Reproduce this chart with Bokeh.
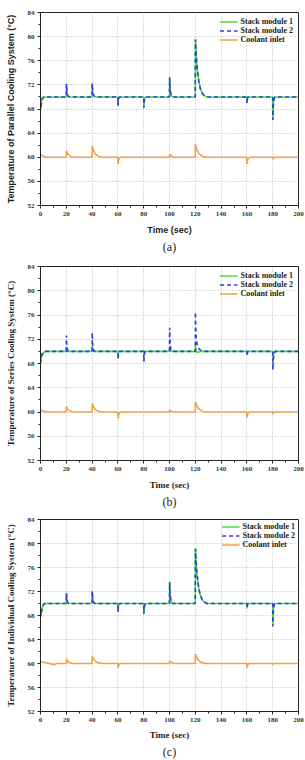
from bokeh.plotting import figure
from bokeh.models import FixedTicker, Title, Range1d
from bokeh.layouts import column
from bokeh.embed import file_html
from bokeh.resources import INLINE

X_TICKS = [0, 20, 40, 60, 80, 100, 120, 140, 160, 180, 200]
X_MINOR = [10, 30, 50, 70, 90, 110, 130, 150, 170, 190]
Y_TICKS = [52, 56, 60, 64, 68, 72, 76, 80, 84]
Y_MINOR = [54, 58, 62, 66, 70, 74, 78, 82]
SERIES_NAMES = ["Stack module 1", "Stack module 2", "Coolant inlet"]

# (a) Parallel cooling system: (time, temperature) points
A_STACK1 = [(0, 69), (0.3, 68), (1, 69.6), (2, 69.9), (3, 70), (20, 70), (20.1, 72.2), (20.4, 71.0),
            (20.8, 70.4), (21.5, 70.1), (22.5, 70), (40, 70), (40.1, 72.3), (40.4, 71.1), (40.9, 70.4),
            (41.8, 70.1), (43, 70), (60, 70), (60.1, 68.6), (60.4, 69.5), (60.8, 69.9), (61.5, 70),
            (80, 70), (80.1, 68.2), (80.4, 69.3), (80.9, 69.9), (81.6, 70), (100, 70), (100.1, 73.3),
            (100.4, 71.6), (100.9, 70.6), (101.8, 70.1), (103, 70), (120, 70), (120.1, 79.6),
            (120.6, 77.3), (121.2, 75.4), (122, 73.7), (123, 72.3), (124, 71.3), (125.5, 70.6),
            (127, 70.2), (129, 70), (160, 70), (160.1, 69.0), (160.4, 69.7), (160.8, 70), (180, 70),
            (180.1, 66.2), (180.4, 68.4), (180.9, 69.6), (181.6, 70), (200, 70)]
A_STACK2 = [(0, 69), (0.3, 68.1), (1, 69.6), (2, 69.9), (3, 70), (20, 70), (20.1, 72.1), (20.4, 71.0),
            (20.8, 70.4), (21.5, 70.1), (22.5, 70), (40, 70), (40.1, 72.2), (40.4, 71.1), (40.9, 70.4),
            (41.8, 70.1), (43, 70), (60, 70), (60.1, 68.6), (60.4, 69.5), (60.8, 69.9), (61.5, 70),
            (80, 70), (80.1, 68.2), (80.4, 69.3), (80.9, 69.9), (81.6, 70), (100, 70), (100.1, 73.2),
            (100.4, 71.6), (100.9, 70.6), (101.8, 70.1), (103, 70), (120, 70), (120.1, 79.5),
            (120.6, 77.2), (121.2, 75.3), (122, 73.6), (123, 72.3), (124, 71.3), (125.5, 70.6),
            (127, 70.2), (129, 70), (160, 70), (160.1, 69.0), (160.4, 69.7), (160.8, 70), (180, 70),
            (180.1, 66.2), (180.4, 68.4), (180.9, 69.6), (181.6, 70), (200, 70)]
A_COOLANT = [(0, 60.5), (1, 60.3), (2.5, 60.1), (5, 60), (20, 60), (20.1, 61.1), (21, 60.6),
             (22.5, 60.25), (25, 60.05), (28, 60), (40, 60), (40.1, 61.9), (41, 61.1), (42.5, 60.5),
             (45, 60.15), (48, 60), (60, 60), (60.1, 58.9), (60.6, 59.6), (61.5, 59.9), (62.5, 60),
             (100, 60), (100.1, 60.5), (101.5, 60.2), (103, 60), (120, 60), (120.1, 62.2), (121, 61.4),
             (122.5, 60.7), (125, 60.2), (128, 60), (160, 60), (160.1, 58.9), (160.6, 59.6),
             (161.5, 59.9), (162.5, 60), (180, 60), (180.1, 59.7), (180.6, 59.9), (181.2, 60), (200, 60)]

# (b) Series cooling system
B_STACK1 = [(0, 68), (0.5, 68.8), (1.5, 69.5), (3, 69.9), (4, 70), (20, 70), (20.1, 70.8), (20.6, 70.2),
            (21.2, 70), (40, 70), (40.1, 70.9), (40.6, 70.2), (41.2, 70), (60, 70), (60.1, 69.6),
            (60.6, 70), (80, 70), (80.1, 69.2), (80.6, 69.8), (81.2, 70), (100, 70), (100.1, 70.8),
            (100.6, 70.2), (101.2, 70), (120, 70), (120.1, 71.0), (120.6, 70.2), (121.2, 69.8),
            (122.5, 69.9), (124, 70), (160, 70), (160.1, 69.8), (160.5, 70), (180, 70), (180.1, 68.8),
            (180.6, 69.5), (181.5, 69.9), (182.5, 70), (200, 70)]
B_STACK2 = [(0, 68), (0.4, 69), (1.2, 69.6), (2.5, 69.95), (3.5, 70), (20, 70), (20.1, 72.6),
            (20.4, 71.0), (20.9, 70.3), (21.5, 70), (40, 70), (40.1, 73.1), (40.4, 71.3), (40.9, 70.4),
            (41.6, 70), (60, 70), (60.1, 68.7), (60.5, 69.6), (61, 70), (80, 70), (80.1, 68.3),
            (80.5, 69.4), (81, 70), (100, 70), (100.1, 73.9), (100.4, 71.6), (100.9, 70.5), (101.6, 70),
            (120, 70), (120.1, 76.5), (120.4, 73.5), (120.8, 72.0), (121.3, 71.2), (122, 70.8),
            (123, 70.4), (124.5, 70.1), (126, 70), (160, 70), (160.1, 69.2), (160.5, 69.8), (161, 70),
            (180, 70), (180.1, 67.0), (180.5, 68.6), (181, 69.6), (181.8, 70), (200, 70)]
B_COOLANT = [(0, 60.4), (1, 60.25), (2.5, 60.1), (5, 60), (20, 60), (20.1, 60.9), (21, 60.5),
             (22.5, 60.2), (25, 60.05), (28, 60), (40, 60), (40.1, 61.4), (41, 60.9), (42.5, 60.4),
             (45, 60.1), (48, 60), (60, 60), (60.1, 58.9), (60.6, 59.6), (61.5, 59.9), (62.5, 60),
             (100, 60), (100.1, 60.3), (101.5, 60.1), (103, 60), (120, 60), (120.1, 61.7), (121, 61.1),
             (122.5, 60.6), (125, 60.15), (128, 60), (160, 60), (160.1, 59.1), (160.6, 59.7),
             (161.5, 59.95), (162.5, 60), (180, 60), (180.1, 59.7), (180.6, 59.9), (181.2, 60), (200, 60)]

# (c) Individual cooling system
C_STACK1 = [(0, 68.5), (0.3, 67.8), (1, 69.0), (2, 69.7), (3, 70), (20, 70), (20.1, 71.8), (20.4, 70.9),
            (20.8, 70.3), (21.5, 70), (40, 70), (40.1, 72.1), (40.4, 71.0), (40.9, 70.4), (41.7, 70),
            (60, 70), (60.1, 68.6), (60.4, 69.5), (60.8, 69.9), (61.3, 70), (80, 70), (80.1, 68.3),
            (80.4, 69.3), (80.9, 69.9), (81.5, 70), (100, 70), (100.1, 73.6), (100.4, 71.8),
            (100.9, 70.7), (101.8, 70.1), (102.5, 70), (120, 70), (120.1, 79.2), (120.6, 77.0),
            (121.2, 75.2), (122, 73.6), (123, 72.2), (124, 71.3), (125.5, 70.6), (127, 70.2), (129, 70),
            (160, 70), (160.1, 69.2), (160.4, 69.7), (160.8, 70), (180, 70), (180.1, 66.2),
            (180.4, 68.4), (180.9, 69.6), (181.6, 70), (200, 70)]
C_STACK2 = [(0, 68.5), (0.3, 67.9), (1, 69.0), (2, 69.7), (3, 70), (20, 70), (20.1, 71.7), (20.4, 70.9),
            (20.8, 70.3), (21.5, 70), (40, 70), (40.1, 72.0), (40.4, 71.0), (40.9, 70.4), (41.7, 70),
            (60, 70), (60.1, 68.6), (60.4, 69.5), (60.8, 69.9), (61.3, 70), (80, 70), (80.1, 68.3),
            (80.4, 69.3), (80.9, 69.9), (81.5, 70), (100, 70), (100.1, 73.5), (100.4, 71.8),
            (100.9, 70.7), (101.8, 70.1), (102.5, 70), (120, 70), (120.1, 79.1), (120.6, 77.0),
            (121.2, 75.2), (122, 73.6), (123, 72.2), (124, 71.3), (125.5, 70.6), (127, 70.2), (129, 70),
            (160, 70), (160.1, 69.2), (160.4, 69.7), (160.8, 70), (180, 70), (180.1, 66.2),
            (180.4, 68.4), (180.9, 69.6), (181.6, 70), (200, 70)]
C_COOLANT = [(0, 60.3), (3, 60.2), (6, 60.05), (9, 59.9), (11.5, 59.8), (12, 60), (20, 60),
             (20.1, 60.8), (21, 60.4), (22.5, 60.15), (25, 60), (40, 60), (40.1, 61.3), (41, 60.8),
             (42.5, 60.35), (45, 60.1), (48, 60), (60, 60), (60.1, 59.3), (60.6, 59.7), (61.5, 59.95),
             (62.5, 60), (100, 60), (100.1, 60.4), (101.5, 60.15), (103, 60), (120, 60), (120.1, 61.6),
             (121, 61.0), (122.5, 60.5), (125, 60.15), (128, 60), (160, 60), (160.1, 59.3),
             (160.6, 59.75), (161.5, 60), (180, 60), (180.1, 59.8), (180.6, 59.95), (181.2, 60), (200, 60)]

GREEN = "#45dc45"
BLUE = "#2f3fe0"
ORANGE = "#f5a048"
SERIF = "Liberation Serif"
SANS = "Liberation Sans"


def make_panel(series, ylabel, label_font, caption, top, frame_h, bottom, leg_margin, xlab_standoff):
    p = figure(output_backend="svg", toolbar_location=None,
               frame_width=258, frame_height=frame_h,
               min_border_left=40, min_border_right=7,
               min_border_top=top, min_border_bottom=bottom,
               x_range=Range1d(0, 200), y_range=Range1d(52, 84))
    p.background_fill_color = "white"
    p.border_fill_color = "white"
    p.outline_line_color = "#222222"
    p.outline_line_width = 1
    styles = [(GREEN, None), (BLUE, "4 3"), (ORANGE, None)]
    for name, pts, (col, dash) in zip(SERIES_NAMES, series, styles):
        t = [a for a, b in pts]
        v = [b for a, b in pts]
        kw = dict(line_color=col, line_width=1.6, legend_label=name)
        if dash:
            kw["line_dash"] = dash
        p.line(t, v, **kw)

    p.xaxis.ticker = FixedTicker(ticks=X_TICKS, minor_ticks=X_MINOR)
    p.yaxis.ticker = FixedTicker(ticks=Y_TICKS, minor_ticks=Y_MINOR)
    for ax in (p.xaxis[0], p.yaxis[0]):
        ax.axis_line_color = "#222222"
        ax.major_tick_line_color = "#222222"
        ax.minor_tick_line_color = "#222222"
        ax.major_tick_out = 3
        ax.major_tick_in = 0
        ax.minor_tick_out = 2
        ax.minor_tick_in = 0
        ax.major_label_text_font = SERIF
        ax.major_label_text_font_style = "bold"
        ax.major_label_text_font_size = "7px"
        ax.major_label_text_color = "#333333"
        ax.major_label_standoff = 3
        ax.axis_label_text_font = label_font
        ax.axis_label_text_font_style = "bold"
        ax.axis_label_text_font_size = "9px"
        ax.axis_label_text_color = "#222222"
    p.xaxis.axis_label = "Time (sec)"
    p.xaxis.axis_label_standoff = xlab_standoff
    p.yaxis.axis_label = ylabel
    p.yaxis.axis_label_standoff = 9

    p.xgrid.ticker = FixedTicker(ticks=X_TICKS)
    p.ygrid.ticker = FixedTicker(ticks=Y_TICKS)
    for g in (p.xgrid[0], p.ygrid[0]):
        g.grid_line_color = "#b8b8b8"
        g.grid_line_dash = "1 2"
        g.grid_line_width = 1

    lg = p.legend[0]
    lg.location = "top_right"
    lg.background_fill_alpha = 0
    lg.border_line_alpha = 0
    lg.label_text_font = SERIF
    lg.label_text_font_style = "bold"
    lg.label_text_font_size = "8px"
    lg.label_text_color = "#222222"
    lg.glyph_width = 18
    lg.glyph_height = 9
    lg.label_height = 9
    lg.label_standoff = 3
    lg.spacing = 0
    lg.padding = 1
    lg.margin = leg_margin

    p.add_layout(Title(text=caption, align="center", text_font=SERIF,
                       text_font_style="normal", text_font_size="12px",
                       text_color="#222222", standoff=0), "below")
    return p


pa = make_panel([A_STACK1, A_STACK2, A_COOLANT],
                "Temperature of Parallel Cooling System (\u00b0C)", SANS, "(a)", 12, 193, 53, 4, 6)
pb = make_panel([B_STACK1, B_STACK2, B_COOLANT],
                "Temperature of Series Cooling System (\u00b0C)", SERIF, "(b)", 8, 194, 50, 4, 6)
pc = make_panel([C_STACK1, C_STACK2, C_COOLANT],
                "Temperature of Individual Cooling System (\u00b0C)", SERIF, "(c)", 9, 192, 49, 2, 5)

layout = column(pa, pb, pc, spacing=0)
open("out.html", "w").write(file_html(layout, INLINE))
